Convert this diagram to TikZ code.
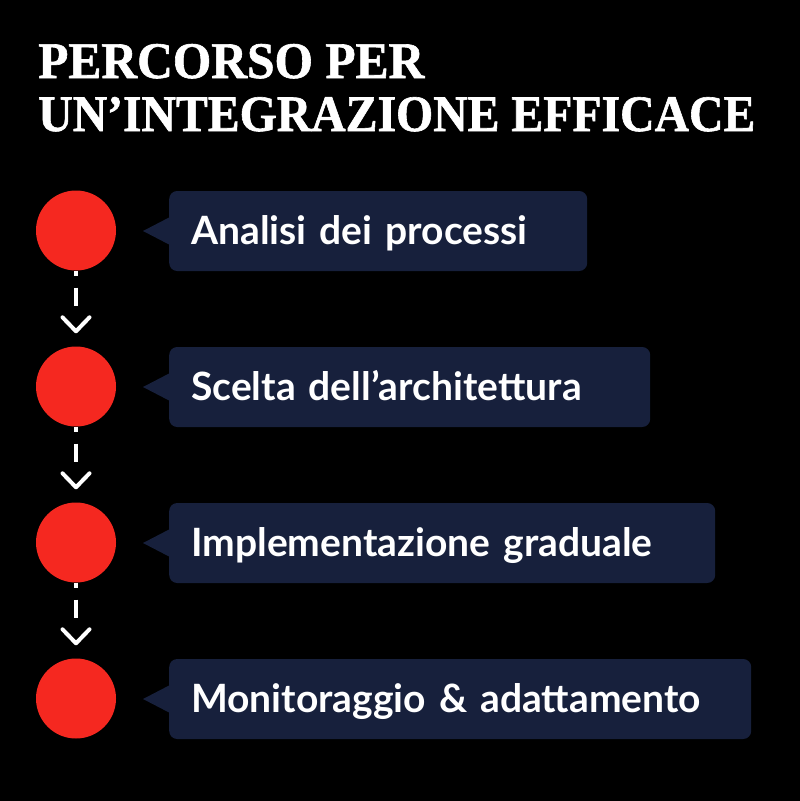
\documentclass[tikz,border=0pt]{standalone}
\usepackage{fontspec}
\usepackage{graphicx}
\setmainfont{Lato}
\newfontfamily\titlefont{Liberation Serif}[FakeBold=1.2]
\usetikzlibrary{arrows.meta}
\definecolor{bgblack}{RGB}{0,0,0}
\definecolor{dotred}{RGB}{245,40,32}
\definecolor{boxnavy}{RGB}{23,32,60}
\tikzset{
  dot/.style={circle, fill=dotred, minimum size=80pt, inner sep=0pt},
  stepbox/.style={rectangle, rounded corners=8pt, fill=boxnavy, anchor=west,
    minimum height=80pt, inner xsep=22pt, inner ysep=0pt, align=left,
    text height=35pt, text depth=8pt, text=white, font=\fontsize{39pt}{43pt}\selectfont\bfseries},
  flow/.style={draw=white, line width=3.5pt, dash pattern=on 5pt off 12pt on 18pt off 80pt,
    shorten >=13pt, -{Straight Barb[length=14pt,width=27pt,line width=4pt,line cap=round,round]}},
  pointer/.style={fill=boxnavy},
  titletext/.style={anchor=base west, inner sep=0pt, text=white}
}
\begin{document}
\begin{tikzpicture}[x=1pt,y=-1pt]
\fill[bgblack] (0,0) rectangle (800,801);
\useasboundingbox (0,0) rectangle (800,801);
\node[titletext] (t1) at (38,78) {\resizebox{386pt}{34pt}{\titlefont\bfseries PERCORSO PER}};
\node[titletext] (t2) at (38,131) {\resizebox{717pt}{34pt}{\titlefont\bfseries UN’INTEGRAZIONE EFFICACE}};
% circles
\node[dot] (c1) at (76,230.5) {};
\node[dot] (c2) at (76,386.5) {};
\node[dot] (c3) at (76,542.5) {};
\node[dot] (c4) at (76,698.5) {};
% boxes
\node[stepbox, text width=374pt] (b1) at (169,231) {Analisi dei processi};
\node[stepbox, text width=437pt] (b2) at (169,387) {Scelta dell’architettura};
\node[stepbox, text width=502pt] (b3) at (169,543) {Implementazione graduale};
\node[stepbox, text width=538pt] (b4) at (169,699) {Monitoraggio \& adattamento};
% pointers
\foreach \b in {b1,b2,b3,b4}{
  \fill[pointer] ([xshift=1pt,yshift=14pt]\b.west) -- ([xshift=-26pt]\b.west) -- ([xshift=1pt,yshift=-14pt]\b.west) -- cycle;
}
% connectors
\draw[flow] (c1) -- (c2);
\draw[flow] (c2) -- (c3);
\draw[flow] (c3) -- (c4);
\end{tikzpicture}
\end{document}
